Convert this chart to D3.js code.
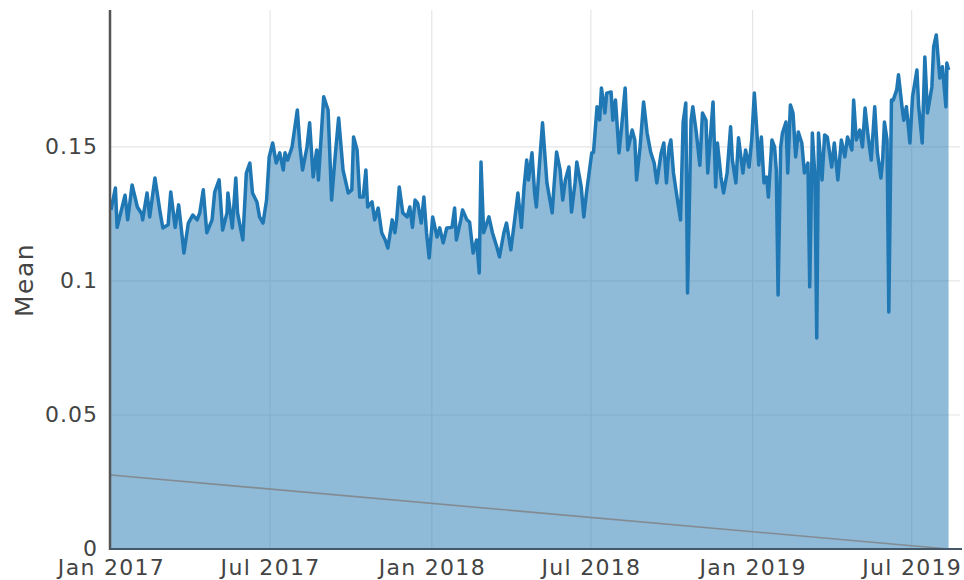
<!DOCTYPE html>
<html>
<head>
<meta charset="utf-8">
<script src="https://cdn.jsdelivr.net/npm/d3@7"></script>
<style>
  body { margin: 0; background: #fff; }
  text { font-family: "DejaVu Sans", Verdana, sans-serif; }
</style>
</head>
<body>
<svg id="chart" width="964" height="580"></svg>
<script>
// Daily mean series (sampled observations)
const dates = [
  "2017-01-01","2017-01-06","2017-01-08","2017-01-11","2017-01-17","2017-01-20","2017-01-25","2017-01-31",
  "2017-02-05","2017-02-06","2017-02-11","2017-02-14","2017-02-20","2017-02-26",
  "2017-03-01","2017-03-07","2017-03-10","2017-03-15","2017-03-19","2017-03-23","2017-03-25","2017-03-30",
  "2017-04-04","2017-04-09","2017-04-12","2017-04-16","2017-04-20","2017-04-26","2017-04-29",
  "2017-05-04","2017-05-08","2017-05-13","2017-05-14","2017-05-19","2017-05-23","2017-05-25","2017-05-31",
  "2017-06-04","2017-06-08","2017-06-11","2017-06-16","2017-06-19","2017-06-23","2017-06-27","2017-06-30",
  "2017-07-04","2017-07-08","2017-07-12","2017-07-16","2017-07-18","2017-07-21","2017-07-26",
  "2017-08-01","2017-08-04","2017-08-07","2017-08-12","2017-08-15","2017-08-19","2017-08-23","2017-08-25","2017-08-31",
  "2017-09-05","2017-09-09","2017-09-13","2017-09-17","2017-09-22","2017-09-28",
  "2017-10-02","2017-10-04","2017-10-08","2017-10-11","2017-10-15","2017-10-18","2017-10-20","2017-10-25","2017-10-28",
  "2017-11-01","2017-11-05","2017-11-09","2017-11-12","2017-11-17","2017-11-20","2017-11-22","2017-11-25","2017-11-29",
  "2017-12-04","2017-12-07","2017-12-10","2017-12-13","2017-12-16","2017-12-20","2017-12-23","2017-12-26","2017-12-29",
  "2018-01-02","2018-01-07","2018-01-10","2018-01-14","2018-01-18","2018-01-24","2018-01-27","2018-01-29",
  "2018-02-03","2018-02-05","2018-02-10","2018-02-13","2018-02-17","2018-02-21","2018-02-24","2018-02-26",
  "2018-03-01","2018-03-07","2018-03-11","2018-03-16","2018-03-19","2018-03-24","2018-03-27",
  "2018-04-01","2018-04-05","2018-04-09","2018-04-13","2018-04-16","2018-04-19","2018-04-21","2018-04-25","2018-04-28","2018-04-30",
  "2018-05-03","2018-05-07","2018-05-12","2018-05-18","2018-05-20","2018-05-23","2018-05-27","2018-05-30",
  "2018-06-02","2018-06-06","2018-06-09","2018-06-13","2018-06-15","2018-06-20","2018-06-23","2018-06-26",
  "2018-07-02","2018-07-04","2018-07-08","2018-07-11","2018-07-13","2018-07-17","2018-07-19","2018-07-24","2018-07-26","2018-07-29",
  "2018-08-02","2018-08-05","2018-08-09","2018-08-12","2018-08-17","2018-08-20","2018-08-22","2018-08-26","2018-08-30",
  "2018-09-03","2018-09-07","2018-09-11","2018-09-14","2018-09-19","2018-09-22","2018-09-25","2018-09-28","2018-09-30",
  "2018-10-03","2018-10-07","2018-10-11","2018-10-14","2018-10-17","2018-10-19","2018-10-23","2018-10-25","2018-10-29",
  "2018-11-02","2018-11-05","2018-11-09","2018-11-11","2018-11-14","2018-11-17","2018-11-20","2018-11-22","2018-11-26","2018-11-29",
  "2018-12-03","2018-12-07","2018-12-09","2018-12-13","2018-12-16","2018-12-21","2018-12-24","2018-12-28","2018-12-31",
  "2019-01-03","2019-01-06","2019-01-08","2019-01-11","2019-01-14","2019-01-17","2019-01-19","2019-01-23","2019-01-26","2019-01-28","2019-01-30",
  "2019-02-02","2019-02-04","2019-02-08","2019-02-10","2019-02-13","2019-02-16","2019-02-19","2019-02-22","2019-02-26",
  "2019-03-01","2019-03-05","2019-03-07","2019-03-10","2019-03-13","2019-03-15","2019-03-17","2019-03-21","2019-03-24","2019-03-27",
  "2019-04-01","2019-04-04","2019-04-08","2019-04-12","2019-04-16","2019-04-19","2019-04-24","2019-04-26","2019-04-29",
  "2019-05-03","2019-05-06","2019-05-09","2019-05-12","2019-05-16","2019-05-20","2019-05-23","2019-05-27","2019-05-29","2019-05-31",
  "2019-06-03","2019-06-05","2019-06-08","2019-06-10","2019-06-14","2019-06-16","2019-06-20","2019-06-22","2019-06-25","2019-06-29",
  "2019-07-02","2019-07-07","2019-07-09","2019-07-13","2019-07-16","2019-07-19","2019-07-24","2019-07-26","2019-07-29",
  "2019-08-02","2019-08-05","2019-08-09","2019-08-10","2019-08-12"
];
const means = [
  0.1265,0.1347,0.1200,0.1240,0.1320,0.1228,0.1358,0.1276,
  0.1250,0.1228,0.1328,0.1239,0.1384,0.1254,
  0.1198,0.1210,0.1332,0.1200,0.1284,0.1164,0.1104,0.1216,
  0.1246,0.1228,0.1254,0.1340,0.1180,0.1228,0.1332,
  0.1377,0.1190,0.1254,0.1328,0.1198,0.1384,0.1254,0.1153,
  0.1403,0.1440,0.1328,0.1295,0.1239,0.1216,0.1302,0.1463,
  0.1515,0.1440,0.1478,0.1414,0.1478,0.1451,0.1500,
  0.1638,0.1500,0.1414,0.1500,0.1590,0.1388,0.1489,0.1377,0.1687,
  0.1638,0.1302,0.1463,0.1608,0.1414,0.1328,
  0.1340,0.1537,0.1489,0.1313,0.1313,0.1414,0.1276,0.1295,0.1228,
  0.1272,0.1180,0.1153,0.1123,0.1228,0.1180,0.1228,0.1351,0.1254,
  0.1239,0.1276,0.1200,0.1302,0.1290,0.1216,0.1313,0.1180,0.1086,
  0.1239,0.1164,0.1198,0.1142,0.1198,0.1200,0.1272,0.1153,
  0.1228,0.1265,0.1228,0.1220,0.1104,0.1153,0.1030,0.1444,
  0.1180,0.1239,0.1180,0.1127,0.1090,0.1180,0.1216,
  0.1116,0.1220,0.1328,0.1200,0.1351,0.1451,0.1377,0.1478,0.1328,0.1276,
  0.1414,0.1590,0.1366,0.1254,0.1351,0.1481,0.1414,0.1302,
  0.1377,0.1425,0.1257,0.1366,0.1444,0.1351,0.1239,0.1328,
  0.1478,0.1480,0.1650,0.1601,0.1720,0.1627,0.1701,0.1705,0.1600,0.1675,
  0.1478,0.1575,0.1720,0.1489,0.1563,0.1526,0.1377,0.1500,0.1668,
  0.1552,0.1481,0.1440,0.1366,0.1478,0.1515,0.1366,0.1500,0.1526,
  0.1403,0.1313,0.1228,0.1593,0.1664,0.0955,0.1600,0.1650,0.1552,
  0.1432,0.1627,0.1600,0.1403,0.1537,0.1668,0.1351,0.1515,0.1388,0.1328,
  0.1403,0.1575,0.1451,0.1366,0.1534,0.1403,0.1489,0.1425,0.1526,
  0.1701,0.1552,0.1433,0.1537,0.1366,0.1388,0.1313,0.1526,0.1500,0.1414,0.0948,
  0.1500,0.1552,0.1593,0.1403,0.1657,0.1627,0.1463,0.1556,0.1515,
  0.1403,0.1440,0.0978,0.1552,0.1388,0.0787,0.1552,0.1377,0.1545,0.1537,
  0.1425,0.1515,0.1377,0.1526,0.1463,0.1537,0.1489,0.1675,0.1526,
  0.1563,0.1500,0.1645,0.1552,0.1451,0.1650,0.1478,0.1384,0.1451,0.1593,
  0.1526,0.0884,0.1675,0.1675,0.1713,0.1769,0.1650,0.1600,0.1650,0.1515,
  0.1687,0.1787,0.1650,0.1515,0.1836,0.1627,0.1724,0.1873,0.1918,
  0.1757,0.1799,0.1650,0.1813,0.1787
];

// Reference line (grey) endpoints
const refDates = ["2017-01-01", "2019-08-12"];
const refValues = [0.0276, 0];

// Axis ticks
const xTickDates = ["2017-01-01","2017-07-01","2018-01-01","2018-07-01","2019-01-01","2019-07-01"];
const xTickLabels = ["Jan 2017","Jul 2017","Jan 2018","Jul 2018","Jan 2019","Jul 2019"];
const yTickValues = [0, 0.05, 0.1, 0.15];
const yTickLabels = ["0", "0.05", "0.1", "0.15"];
const yTitle = "Mean";

const parse = d3.timeParse("%Y-%m-%d");
const series = dates.map((d, i) => ({ date: parse(d), value: means[i] }));
const refLine = refDates.map((d, i) => ({ date: parse(d), value: refValues[i] }));

const plot = { left: 111, right: 960, top: 10, bottom: 549 };
const x = d3.scaleTime()
  .domain([parse("2017-01-01"), parse("2019-08-25")])
  .range([plot.left, plot.right]);
const y = d3.scaleLinear()
  .domain([0, 0.2011])
  .range([plot.bottom, plot.top]);

const svg = d3.select("#chart");

// Grid
const grid = svg.append("g").attr("class", "grid");
grid.selectAll("line.h").data(yTickValues.slice(1)).join("line")
  .attr("x1", plot.left).attr("x2", plot.right)
  .attr("y1", d => y(d)).attr("y2", d => y(d))
  .attr("stroke", "#e6e6e6").attr("stroke-width", 1.2);
grid.selectAll("line.v").data(xTickDates.slice(1).map(parse)).join("line")
  .attr("x1", d => x(d)).attr("x2", d => x(d))
  .attr("y1", plot.top).attr("y2", plot.bottom)
  .attr("stroke", "#e6e6e6").attr("stroke-width", 1.2);

// Filled area under the series
const area = d3.area()
  .x(d => x(d.date))
  .y0(y(0))
  .y1(d => y(d.value));
svg.append("path")
  .datum(series)
  .attr("d", area)
  .attr("fill", "#1f77b4")
  .attr("fill-opacity", 0.5);

// Series line
const line = d3.line()
  .x(d => x(d.date))
  .y(d => y(d.value));
svg.append("path")
  .datum(series)
  .attr("d", line)
  .attr("fill", "none")
  .attr("stroke", "#1f77b4")
  .attr("stroke-width", 3.5)
  .attr("stroke-linejoin", "round");

// Grey reference line
svg.append("path")
  .datum(refLine)
  .attr("d", line)
  .attr("fill", "none")
  .attr("stroke", "#7f7f7f")
  .attr("stroke-opacity", 0.8)
  .attr("stroke-width", 1.6);

// Axes
const yAxis = svg.append("g")
  .attr("transform", `translate(${plot.left - 1},0)`)
  .call(d3.axisLeft(y).tickValues(yTickValues)
    .tickFormat((d, i) => yTickLabels[i]).tickSize(0).tickPadding(12));
yAxis.select(".domain").remove();
yAxis.selectAll("text")
  .attr("fill", "#444").attr("font-size", 22)
  .attr("dy", "0.28em")
  .style("letter-spacing", "1px")
  .style("font-family", "'DejaVu Sans', Verdana, sans-serif");

const xAxis = svg.append("g")
  .attr("transform", `translate(0,${plot.bottom})`)
  .call(d3.axisBottom(x).tickValues(xTickDates.map(parse))
    .tickFormat((d, i) => xTickLabels[i]).tickSize(0).tickPadding(10));
xAxis.select(".domain").remove();
xAxis.selectAll("text")
  .attr("fill", "#444").attr("font-size", 22)
  .style("letter-spacing", "1.3px")
  .style("font-family", "'DejaVu Sans', Verdana, sans-serif");

// Axis lines
svg.append("line")
  .attr("x1", plot.left - 1).attr("x2", plot.left - 1)
  .attr("y1", plot.top).attr("y2", plot.bottom + 1)
  .attr("stroke", "#555").attr("stroke-width", 2.5);
svg.append("line")
  .attr("x1", plot.left - 1).attr("x2", plot.right + 2)
  .attr("y1", plot.bottom).attr("y2", plot.bottom)
  .attr("stroke", "#45586a").attr("stroke-width", 2);

// Y-axis title
svg.append("text")
  .attr("transform", `translate(33,280) rotate(-90)`)
  .attr("text-anchor", "middle")
  .attr("fill", "#444")
  .attr("font-size", 25)
  .style("letter-spacing", "1.5px")
  .text(yTitle);
</script>
</body>
</html>
